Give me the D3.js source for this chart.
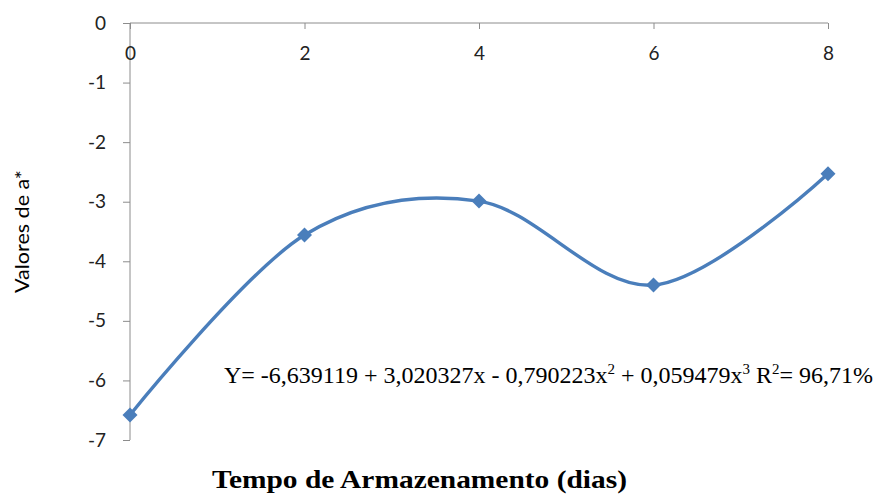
<!DOCTYPE html>
<html>
<head>
<meta charset="utf-8">
<script src="https://cdn.jsdelivr.net/npm/d3@7"></script>
<style>
  html, body { margin: 0; padding: 0; background: #fff; }
  svg { display: block; }
</style>
</head>
<body>
<svg id="chart" width="881" height="495"></svg>
<script>
// Storage time (days) and a* values
const dias = [0, 2, 4, 6, 8];
const valoresA = [-6.58, -3.56, -2.99, -4.40, -2.53];
const xTicks = [0, 2, 4, 6, 8];
const yTicks = [0, -1, -2, -3, -4, -5, -6, -7];
const equacao = "Y= -6,639119 + 3,020327x - 0,790223x";
const tituloX = "Tempo de Armazenamento (dias)";
const tituloY = "Valores de a*";

const svg = d3.select("#chart");
const axisColor = "#8c8c8c";
const lineColor = "#4a7ebb";
const sans = "Lato, 'Open Sans', sans-serif";
const serif = "'Liberation Serif', 'Times New Roman', serif";

const x = d3.scaleLinear().domain([0, 8]).range([130, 828]);
const y = d3.scaleLinear().domain([0, -7]).range([23, 440]);

// y axis (left)
const yAxis = svg.append("g").attr("transform", `translate(${x(0)},0)`)
  .call(d3.axisLeft(y).tickValues(yTicks).tickSize(7).tickPadding(17).tickFormat(d3.format("d")));
yAxis.select(".domain").attr("stroke", axisColor).attr("d", `M0,${y(0)}V${y(-7)}`);
yAxis.selectAll(".tick line").attr("stroke", axisColor);
yAxis.selectAll(".tick text")
  .attr("fill", "#222")
  .attr("font-family", sans).attr("font-size", 19)
  .text(d => d === 0 ? "0" : "-" + Math.abs(d));

// x axis (at y = 0, top), tick marks pointing down
const xAxis = svg.append("g").attr("transform", `translate(0,${y(0)})`)
  .call(d3.axisBottom(x).tickValues(xTicks).tickSize(6).tickPadding(18).tickFormat(d3.format("d")));
xAxis.select(".domain").attr("stroke", axisColor).attr("d", `M${x(0)},0H${x(8)}`);
xAxis.selectAll(".tick line").attr("stroke", axisColor);
xAxis.selectAll(".tick text")
  .attr("fill", "#222")
  .attr("font-family", sans).attr("font-size", 19);

// smoothed series line
const pts = dias.map((d, i) => [d, valoresA[i]]);
svg.append("path")
  .datum(pts)
  .attr("fill", "none")
  .attr("stroke", lineColor)
  .attr("stroke-width", 3.4)
  .attr("d", d3.line().x(d => x(d[0])).y(d => y(d[1])).curve(d3.curveCardinal.tension(0)));

// diamond markers
svg.selectAll("path.marker")
  .data(pts)
  .join("path")
  .attr("class", "marker")
  .attr("transform", d => `translate(${x(d[0])},${y(d[1])})`)
  .attr("d", "M0,-7.5L7.5,0L0,7.5L-7.5,0Z")
  .attr("fill", lineColor);

// regression equation
const eq = svg.append("text")
  .attr("x", 224).attr("y", 383)
  .attr("font-family", serif)
  .attr("font-size", 24)
  .attr("fill", "#000");
eq.append("tspan").text(equacao);
eq.append("tspan").attr("dy", -9).attr("font-size", 15).text("2");
eq.append("tspan").attr("dy", 9).text(" + 0,059479x");
eq.append("tspan").attr("dy", -9).attr("font-size", 15).text("3");
eq.append("tspan").attr("dy", 9).text(" R");
eq.append("tspan").attr("dy", -9).attr("font-size", 15).text("2");
eq.append("tspan").attr("dy", 9).text("= 96,71%");

// axis titles
svg.append("text")
  .attr("x", 212).attr("y", 488)
  .attr("font-family", serif)
  .attr("font-size", 26).attr("font-weight", "bold")
  .attr("textLength", 415).attr("lengthAdjust", "spacingAndGlyphs")
  .text(tituloX);

svg.append("text")
  .attr("transform", "translate(29,293) rotate(-90)")
  .attr("font-family", sans)
  .attr("font-size", 19)
  .attr("textLength", 123).attr("lengthAdjust", "spacingAndGlyphs")
  .attr("fill", "#000")
  .text(tituloY);
</script>
</body>
</html>
